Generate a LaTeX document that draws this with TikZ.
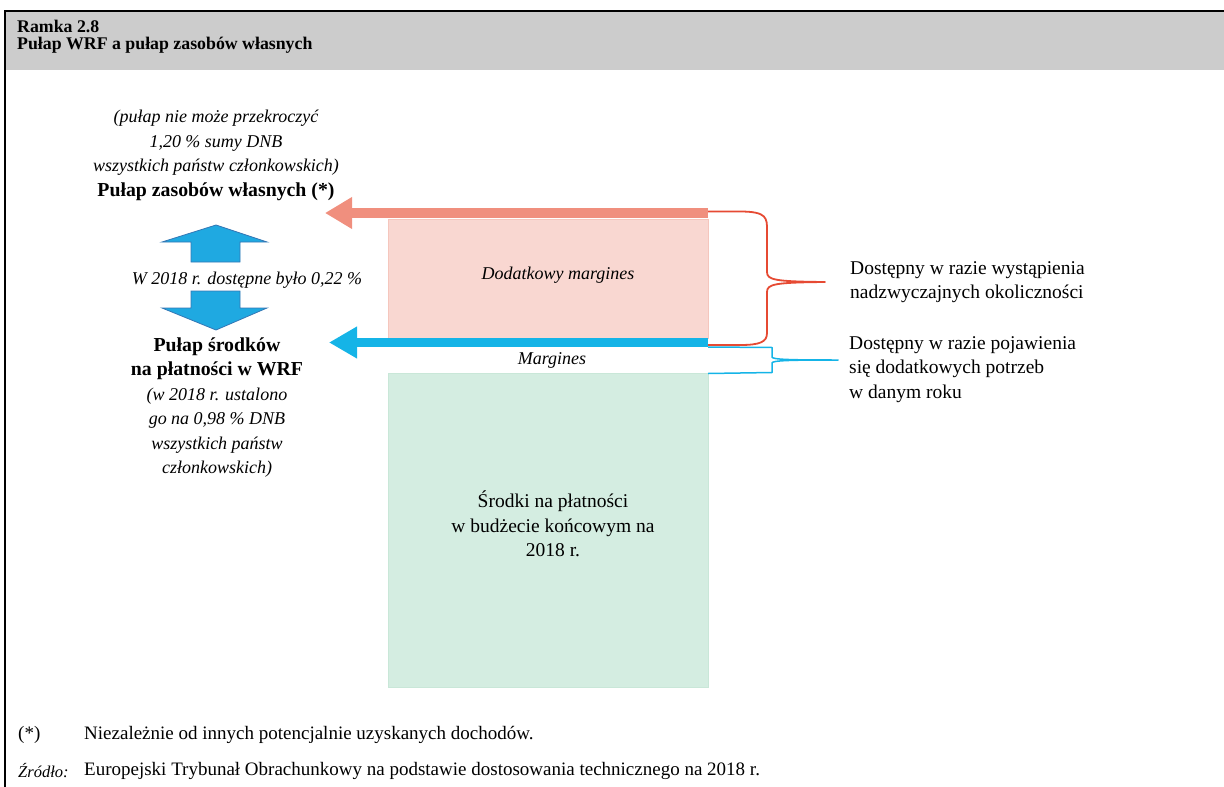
\documentclass[tikz,border=0pt]{standalone}
\usepackage{fontspec}
\setmainfont{Liberation Serif}
\usetikzlibrary{arrows.meta}
\definecolor{hdrgray}{HTML}{CCCCCC}
\definecolor{salmon}{HTML}{F08F7E}
\definecolor{pinkfill}{HTML}{F9D7D1}
\definecolor{pinkline}{HTML}{F5C6BD}
\definecolor{cyanbar}{HTML}{15B4E7}
\definecolor{greenfill}{HTML}{D4EDE1}
\definecolor{greenline}{HTML}{C9E7D8}
\definecolor{bracered}{HTML}{E64A33}
\definecolor{blockfill}{HTML}{1FA9E1}
\definecolor{blockline}{HTML}{3477B5}
\newcommand{\rgtxt}{\fontsize{19.5}{24.5}\selectfont}
\newcommand{\ittxt}[1]{{\itshape\fontsize{18}{24.5}\selectfont #1}}
\newcommand{\bftxt}[1]{{\bfseries\fontsize{19.8}{24.5}\selectfont #1}}
\begin{document}
\begin{tikzpicture}[x=1pt,y=-1pt,
  txt/.style={inner sep=0pt, font=\rgtxt},
  foot/.style={inner sep=0pt, anchor=west, font=\fontsize{19}{22}\selectfont},
  pinkbox/.style={draw=pinkline, fill=pinkfill, line width=1pt, inner sep=0pt},
  greenbox/.style={draw=greenline, fill=greenfill, line width=1pt, inner sep=0pt},
  blockarrow/.style={fill=blockfill, draw=blockline, line width=0.8pt, line join=miter},
]
\useasboundingbox (0,0) rectangle (1224,787);
% header
\fill[hdrgray] (6,11) rectangle (1224,70);
\draw[line width=2pt] (5,787) |- (1224,10.5);
\node[inner sep=0pt, anchor=north west, align=left, font=\bfseries\fontsize{17.8}{17}\selectfont] (title) at (17,20) {Ramka 2.8\\Pułap WRF a pułap zasobów własnych};

% boxes
\node[pinkbox, minimum width=320pt, minimum height=119pt] (dod) at (548,278.5) {};
\node[greenbox, minimum width=320pt, minimum height=314pt] (srod) at (548,530) {};
\node[txt] (dodt) at (558,275) {\ittxt{Dodatkowy margines}};
\node[txt] (marg) at (552,360) {\ittxt{Margines}};
\node[txt, align=center] (srodt) at (553,524) {Środki na płatności\\w budżecie końcowym na\\2018 r.};

% bar arrows
\coordinate (salA) at (708,213);
\coordinate (salB) at (325,213);
\coordinate (cyA) at (708,342.5);
\coordinate (cyB) at (329,342.5);
\draw[salmon, line width=10pt, -{Triangle[length=27pt,width=30pt]}] (salA) -- (salB);
\draw[cyanbar, line width=9pt, -{Triangle[length=28pt,width=30pt]}] (cyA) -- (cyB);

% left texts
\node[txt, align=center] (own) at (216,155.5) {\ittxt{(pułap nie może przekroczyć}\\\ittxt{1,20 \% sumy DNB}\\\ittxt{wszystkich państw członkowskich)}\\\bftxt{Pułap zasobów własnych (*)}};
\node[txt, align=center] (pay) at (217,407.5) {\bftxt{Pułap środków}\\\bftxt{na płatności w WRF}\\\ittxt{(w 2018 r. ustalono}\\\ittxt{go na 0,98 \% DNB}\\\ittxt{wszystkich państw}\\\ittxt{członkowskich)}};
\node[txt] (avail) at (247,280) {\ittxt{W 2018 r. dostępne było 0,22 \%}};

% block arrows
\draw[blockarrow] (216,225) -- (267,242) -- (240,242) -- (240,262) -- (191,262) -- (191,242) -- (162,242) -- cycle;
\draw[blockarrow] (191,291) -- (240,291) -- (240,308) -- (267,308) -- (216,330) -- (162,308) -- (191,308) -- cycle;

% braces
\coordinate (rbTop) at (708,211.5);
\coordinate (rbTip) at (825,282);
\coordinate (rbBot) at (708,345);
\draw[bracered, line width=1.8pt, line join=round]
  (rbTop) -- (740,211.5) .. controls (767,211.5) and (767,218) .. (767,230)
  -- (767,272) .. controls (767,280) and (775,281.5) .. (rbTip)
  .. controls (775,282.5) and (767,284) .. (767,292)
  -- (767,333) .. controls (767,342) and (760,345) .. (740,345) -- (rbBot);
\coordinate (bbTop) at (708,347);
\coordinate (bbTip) at (838,360);
\coordinate (bbBot) at (708,373.5);
\draw[cyanbar, line width=1.5pt, line join=round]
  (bbTop) -- (772,347.5) -- (772,357) .. controls (772,359.5) and (790,360) .. (bbTip)
  .. controls (790,360) and (772,360.5) .. (772,363) -- (772,372.5) -- (bbBot);

% right texts
\node[txt, anchor=west, align=left] (extra) at (850,282) {Dostępny w razie wystąpienia\\nadzwyczajnych okoliczności};
\node[txt, anchor=west, align=left] (needs) at (849,369.5) {Dostępny w razie pojawienia\\się dodatkowych potrzeb\\w danym roku};

% footnotes
\node[foot] (star) at (18,735) {(*)};
\node[foot] (startxt) at (84,735) {Niezależnie od innych potencjalnie uzyskanych dochodów.};
\node[foot, font=\itshape\fontsize{16.5}{20}\selectfont] (src) at (18,771) {Źródło:};
\node[foot] (srctxt) at (84,771) {Europejski Trybunał Obrachunkowy na podstawie dostosowania technicznego na 2018 r.};
\end{tikzpicture}
\end{document}
